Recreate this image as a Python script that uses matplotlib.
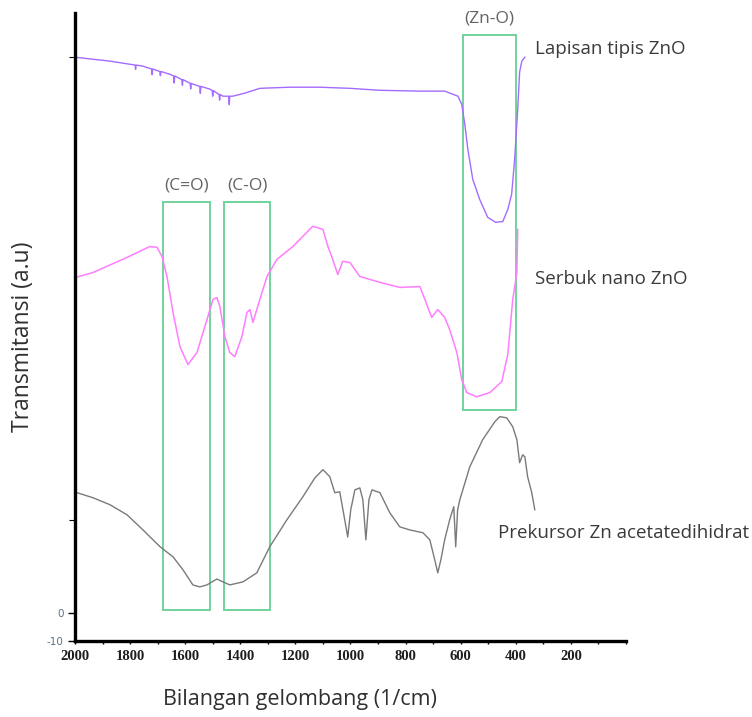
import matplotlib
matplotlib.use("Agg")
import matplotlib.pyplot as plt
from matplotlib.patches import Rectangle
from matplotlib.ticker import MultipleLocator, FixedLocator

# ---- data (wavenumber in 1/cm, transmittance in a.u.) ----
film_wn = [2000, 1873, 1782, 1780, 1778, 1753, 1722, 1720, 1718, 1692, 1690, 1688, 1655, 1642, 1640, 1638,
           1612, 1610, 1608, 1582, 1580, 1578, 1572, 1547, 1545, 1543, 1510, 1502, 1500, 1498,
           1477, 1475, 1473, 1463, 1442, 1440, 1438, 1427, 1383,
           1329, 1220, 1111, 1002, 893, 748, 658, 610, 596, 585, 574, 556, 531, 502, 473, 447,
           429, 415, 404, 393, 386, 378, 367]
film_t = [198.2, 196.8, 195.4, 193.9, 195.4, 195.0, 194.0, 192.0, 194.0, 193.1, 191.6, 193.1, 192.1, 191.5, 189.0, 191.5,
          190.2, 188.2, 190.2, 188.9, 186.9, 188.9, 188.6, 187.8, 185.3, 187.8, 186.8, 186.3, 184.3, 186.3,
          184.9, 182.9, 184.9, 184.3, 184.3, 181.3, 184.3, 184.3, 185.4,
          187.1, 187.5, 187.5, 187.1, 186.4, 186.1, 186.1, 184.3, 181.4, 174.3, 165.4, 154.6, 147.5, 141.1, 139.3, 139.6,
          143.9, 149.3, 161.8, 179.6, 192.9, 196.8, 198.2]

nano_wn = [2000, 1935, 1811, 1728, 1702, 1684, 1666, 1644, 1619, 1590, 1557, 1521, 1499, 1485, 1474,
           1456, 1438, 1420, 1394, 1376, 1365, 1354, 1329, 1303, 1267, 1209, 1137, 1100, 1082, 1068,
           1046, 1028, 1002, 966, 893, 821, 748, 705, 683, 658, 640, 614, 596, 578, 542, 494,
           451, 429, 411, 396, 393]
nano_t = [119.6, 121.4, 126.8, 130.7, 130.4, 127.1, 120.0, 107.1, 95.0, 88.6, 92.9, 104.6, 111.8, 112.5, 109.3,
          98.6, 92.9, 91.4, 98.6, 107.1, 108.2, 103.6, 111.8, 120.0, 126.1, 130.7, 137.9, 136.8, 130.7, 127.1,
          120.7, 125.4, 125.0, 120.0, 117.9, 116.1, 116.4, 105.4, 108.2, 105.4, 101.1, 92.9, 83.2, 78.6, 77.1, 78.6,
          82.5, 92.1, 111.8, 121.4, 136.8]

prec_wn = [1993, 1935, 1873, 1811, 1753, 1691, 1644, 1608, 1572, 1547, 1521, 1485, 1463, 1438, 1390,
           1340, 1293, 1231, 1173, 1129, 1100, 1075, 1057, 1039, 1024, 1010, 999, 984, 966, 955,
           944, 933, 922, 893, 857, 821, 784, 737, 712, 694, 683, 672, 658, 640, 625, 618,
           611, 603, 567, 520, 476, 458, 433, 411, 396, 386, 375, 367, 357, 342, 331]
prec_t = [42.9, 41.1, 38.6, 35.0, 29.6, 23.6, 20.0, 15.4, 10.0, 9.3, 10.0, 12.1, 11.1, 10.0, 11.1,
          14.3, 23.6, 33.2, 41.4, 48.2, 51.1, 48.6, 42.9, 43.2, 35.0, 27.1, 36.8, 43.9, 44.6, 40.4,
          26.1, 40.4, 43.9, 42.9, 35.7, 30.7, 29.6, 28.6, 26.1, 18.9, 14.3, 18.9, 26.1, 33.2, 37.9, 23.6,
          36.8, 40.4, 52.1, 61.8, 68.2, 70.0, 69.6, 66.4, 61.8, 53.6, 56.4, 55.7, 48.6, 42.9, 36.8]

# band regions: (label, high wn, low wn, bottom t, top t)
band_labels = ["(C=O)", "(C-O)", "(Zn-O)"]
band_hi = [1681, 1459, 592]
band_lo = [1510, 1292, 400]
band_bot = [1.1, 1.1, 72.5]
band_top = [146.4, 146.4, 206.0]

series_names = ["Lapisan tipis ZnO", "Serbuk nano ZnO", "Prekursor Zn acetatedihidrat"]
x_ticks = [2000, 1800, 1600, 1400, 1200, 1000, 800, 600, 400, 200]
y_ticks = [0, -10]

fig = plt.figure(figsize=(7.52, 7.17), dpi=100)
ax = fig.add_axes([0.0997, 0.106, 0.7327, 0.876])

ax.plot(film_wn, film_t, color="#a36bff", lw=1.0)
ax.plot(nano_wn, nano_t, color="#ff7dff", lw=1.1)
ax.plot(prec_wn, prec_t, color="#7a7a7a", lw=1.0)

for lab, hi, lo, b, t in zip(band_labels, band_hi, band_lo, band_bot, band_top):
    ax.add_patch(Rectangle((lo, b), hi - lo, t - b, fill=False, ec="#72d39b", lw=1.4))
    ax.text((hi + lo) / 2, t + 6.0, lab, ha="center", va="center", fontsize=12.5,
            color="#636363", family="Open Sans")

ax.text(331, 201, series_names[0], ha="left", va="center", fontsize=13.5,
        color="#3a3a3a", family="Open Sans")
ax.text(331, 119, series_names[1], ha="left", va="center", fontsize=13.5,
        color="#3a3a3a", family="Open Sans")
ax.text(465, 28.6, series_names[2], ha="left", va="center", fontsize=13.5,
        color="#3a3a3a", family="Open Sans")

ax.set_xlim(2000, 0)
ax.set_ylim(-10, 214)

for s in ["top", "right"]:
    ax.spines[s].set_visible(False)
ax.spines["left"].set_linewidth(2.4)
ax.spines["bottom"].set_linewidth(2.4)

ax.set_xticks(x_ticks)
ax.set_xticklabels([str(v) for v in x_ticks], family="Liberation Serif",
                   fontweight="bold", fontsize=10.5, color="#1e1e1e")
ax.xaxis.set_minor_locator(MultipleLocator(100))
ax.tick_params(axis="x", which="both", direction="out", length=2.5, width=1.0, pad=4)

ax.set_yticks(y_ticks)
ax.set_yticklabels([str(v) for v in y_ticks], fontsize=7.5, color="#5a6e86")
ax.yaxis.set_minor_locator(FixedLocator([33.2, 198.2]))
ax.tick_params(axis="y", which="major", direction="out", length=5, width=1.0, pad=3)
ax.tick_params(axis="y", which="minor", direction="out", length=4, width=0.8)

fig.text(0.399, 0.024, "Bilangan gelombang (1/cm)", ha="center", va="center",
         fontsize=15.5, color="#303030", family="Open Sans")
fig.text(0.030, 0.531, "Transmitansi (a.u)", ha="center", va="center", rotation=90,
         fontsize=16.5, color="#303030", family="Open Sans")

fig.savefig("out.png", dpi=100)
